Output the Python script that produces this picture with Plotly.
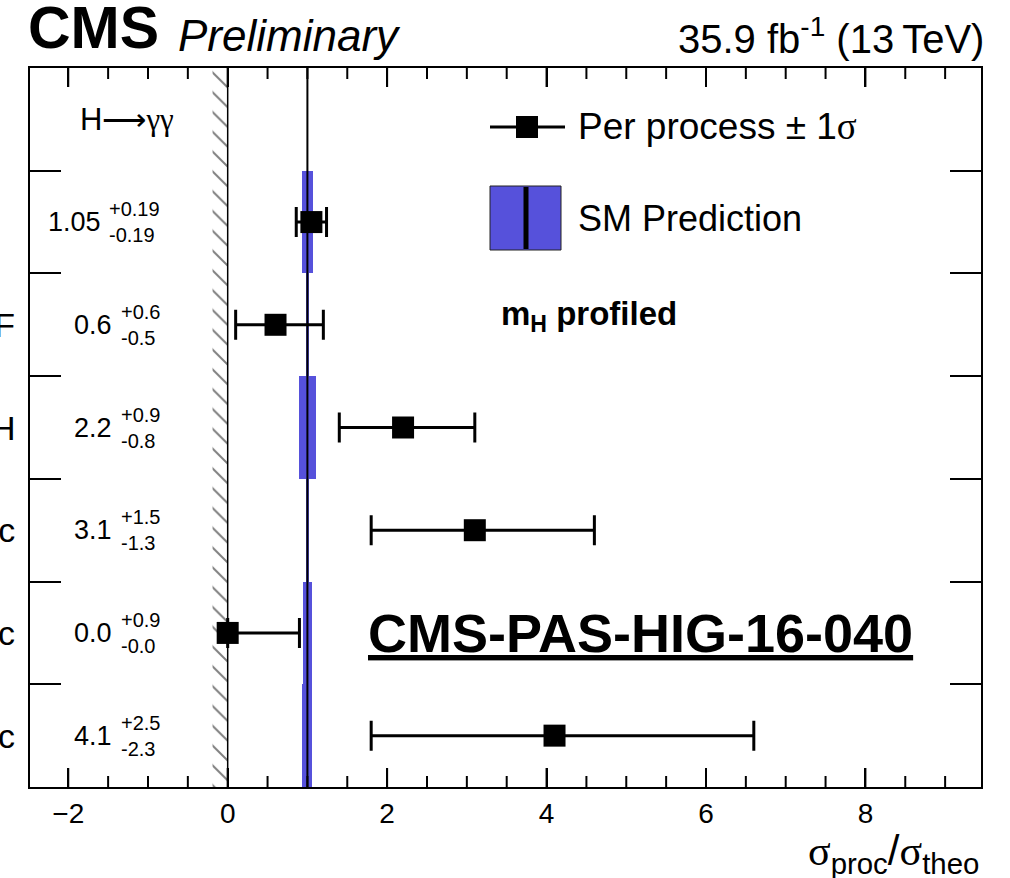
import numpy as np
import plotly.graph_objects as go

# Per-process signal strengths, H -> gamma gamma (top row first)
processes = ["ggH", "VBF", "ttH", "WH leptonic", "ZH leptonic", "VH hadronic"]
mu = [1.05, 0.6, 2.2, 3.1, 0.0, 4.1]
err_up = [0.19, 0.6, 0.9, 1.5, 0.9, 2.5]
err_dn = [0.19, 0.5, 0.8, 1.3, 0.0, 2.3]
mu_text = ["1.05", "0.6", "2.2", "3.1", "0.0", "4.1"]
up_text = ["+0.19", "+0.6", "+0.9", "+1.5", "+0.9", "+2.5"]
dn_text = ["-0.19", "-0.5", "-0.8", "-1.3", "-0.0", "-2.3"]
# theory uncertainty on the SM prediction (relative, per process)
sm_unc = [0.067, 0.022, 0.107, 0.022, 0.055, 0.063]
SM_VALUE = 1.0
X_MAJOR = 2
X_MINOR = 0.5

X_RANGE = [-2.48, 9.45]
N_ROWS = len(processes) + 1          # one extra row for the channel header
HATCH_WIDTH = 0.19                   # physical boundary band at sigma = 0
VALUE_LABEL_X = -0.826               # right edge of the value labels

W, H = 1010, 878
ML, MR, MT, MB = 30, 29, 68, 91
PLOT_H = H - MT - MB
SANS = "Liberation Sans, Arial, Helvetica, sans-serif"
SERIF = "Liberation Serif, Times New Roman, serif"
BLUE = "#5651DB"

rows = [len(processes) - 0.5 - i for i in range(len(processes))]


def px_x(px):
    return (px - ML) / (W - ML - MR)


def px_y(py):
    return (H - MB - py) / PLOT_H


def serif(s):
    return f"<span style='font-family:{SERIF}'>{s}</span>"


# approximate Helvetica advance widths (em) for the stacked uncertainties
CHAR_W = {"+": 0.584, "-": 0.333, ".": 0.278}


def text_width(s, size):
    return sum(CHAR_W.get(c, 0.556) for c in s) * size


fig = go.Figure()

# hatched band marking the unphysical region below zero
fig.add_trace(go.Scatter(
    x=[-HATCH_WIDTH, 0, 0, -HATCH_WIDTH, -HATCH_WIDTH],
    y=[0, 0, N_ROWS, N_ROWS, 0],
    mode="lines", fill="toself", line=dict(width=0),
    fillcolor="rgba(0,0,0,0)",
    fillpattern=dict(shape="\\", size=14, solidity=0.14,
                     fgcolor="black", bgcolor="rgba(0,0,0,0)", fillmode="overlay"),
    hoverinfo="skip", showlegend=False,
))

# SM prediction uncertainty bands
fig.add_trace(go.Bar(
    y=rows, x=[2 * u for u in sm_unc], base=[SM_VALUE - u for u in sm_unc],
    orientation="h", width=1.0,
    marker=dict(color=BLUE, line=dict(width=0)),
    hoverinfo="skip", showlegend=False,
))

# reference lines at zero and at the SM value
fig.add_trace(go.Scatter(x=[0, 0], y=[0, N_ROWS], mode="lines",
                         line=dict(color="black", width=1.5),
                         hoverinfo="skip", showlegend=False))
fig.add_trace(go.Scatter(x=[SM_VALUE, SM_VALUE], y=[0, N_ROWS], mode="lines",
                         line=dict(color="black", width=2),
                         hoverinfo="skip", showlegend=False))

# x-axis tick marks (major + minor) along the bottom and top frame edges
tick_x, tick_y = [], []
px_to_y = N_ROWS / PLOT_H
for v in np.arange(np.ceil(X_RANGE[0] / X_MINOR) * X_MINOR, X_RANGE[1], X_MINOR):
    v = float(v)
    length = (19 if abs(v / X_MAJOR - round(v / X_MAJOR)) < 1e-9 else 11) * px_to_y
    tick_x += [v, v, None, v, v, None]
    tick_y += [0, length, None, N_ROWS, N_ROWS - length, None]
fig.add_trace(go.Scatter(x=tick_x, y=tick_y, mode="lines", connectgaps=False,
                         line=dict(color="black", width=2),
                         hoverinfo="skip", showlegend=False))

# measured signal strengths with +-1 sigma
fig.add_trace(go.Scatter(
    x=mu, y=rows, mode="markers",
    marker=dict(symbol="square", size=22, color="black"),
    error_x=dict(type="data", symmetric=False, array=err_up, arrayminus=err_dn,
                 thickness=3, width=15, color="black"),
    showlegend=False,
))

ann = []

# value labels with asymmetric uncertainties
SMALL = 20
for r, m, u, d in zip(rows, mu_text, up_text, dn_text):
    stack_w = max(text_width(u, SMALL), text_width(d, SMALL))
    ann.append(dict(x=VALUE_LABEL_X, y=r, xref="x", yref="y", text=f"{u}<br>{d}",
                    xanchor="right", yanchor="middle", align="left", showarrow=False,
                    font=dict(family=SANS, size=SMALL, color="black")))
    ann.append(dict(x=VALUE_LABEL_X, y=r, xref="x", yref="y", text=m,
                    xanchor="right", yanchor="middle", showarrow=False,
                    xshift=-(stack_w + 8),
                    font=dict(family=SANS, size=27, color="black")))

# process names to the left of the frame
for r, name in list(zip(rows, processes))[1:]:
    ann.append(dict(x=px_x(17), y=r, xref="paper", yref="y", text=name,
                    xanchor="right", yanchor="middle", showarrow=False,
                    font=dict(family=SANS, size=34, color="black")))

# header texts
ann += [
    dict(x=px_x(26), y=px_y(63), xref="paper", yref="paper", text="<b>CMS</b>",
         xanchor="left", yanchor="bottom", showarrow=False,
         font=dict(family=SANS, size=59, color="black")),
    dict(x=px_x(176), y=px_y(62), xref="paper", yref="paper", text="<i>Preliminary</i>",
         xanchor="left", yanchor="bottom", showarrow=False,
         font=dict(family=SANS, size=44, color="black")),
    dict(x=px_x(986), y=px_y(63), xref="paper", yref="paper",
         text="35.9 fb<sup>-1</sup> (13\u2009TeV)",
         xanchor="right", yanchor="bottom", showarrow=False,
         font=dict(family=SANS, size=40, color="black")),
    dict(x=px_x(78), y=N_ROWS - 0.5, xref="paper", yref="y",
         text="H" + serif("\u27f6\u03b3\u03b3"),
         xanchor="left", yanchor="middle", showarrow=False,
         font=dict(family=SANS, size=31, color="black")),
    dict(x=px_x(576), y=px_y(126), xref="paper", yref="paper",
         text="Per process \u00b1 1" + serif("\u03c3"),
         xanchor="left", yanchor="middle", showarrow=False,
         font=dict(family=SANS, size=37, color="black")),
    dict(x=px_x(576), y=px_y(219), xref="paper", yref="paper", text="SM Prediction",
         xanchor="left", yanchor="middle", showarrow=False,
         font=dict(family=SANS, size=36, color="black")),
    dict(x=px_x(499), y=px_y(316), xref="paper", yref="paper",
         text="<b>m<sub>H</sub> profiled</b>",
         xanchor="left", yanchor="middle", showarrow=False,
         font=dict(family=SANS, size=33, color="black")),
    dict(x=px_x(366), y=px_y(633), xref="paper", yref="paper",
         text="<b><u>CMS-PAS-HIG-16-040</u></b>",
         xanchor="left", yanchor="middle", showarrow=False,
         font=dict(family=SANS, size=54, color="black")),
    dict(x=1.0, y=px_y(853), xref="paper", yref="paper",
         text=serif("\u03c3") + "<sub>proc</sub>/" + serif("\u03c3") + "<sub>theo</sub>",
         xanchor="right", yanchor="middle", showarrow=False,
         font=dict(family=SANS, size=42, color="black")),
]

# legend symbols
shapes = [
    dict(type="line", xref="paper", yref="paper", x0=px_x(490), x1=px_x(565),
         y0=px_y(127), y1=px_y(127), line=dict(color="black", width=3)),
    dict(type="rect", xref="paper", yref="paper", x0=px_x(516), x1=px_x(538),
         y0=px_y(116), y1=px_y(138), fillcolor="black", line=dict(width=0)),
    dict(type="rect", xref="paper", yref="paper", x0=px_x(490), x1=px_x(561),
         y0=px_y(186), y1=px_y(250), fillcolor=BLUE, line=dict(color="#222", width=1)),
    dict(type="line", xref="paper", yref="paper", x0=px_x(526), x1=px_x(526),
         y0=px_y(187), y1=px_y(249), line=dict(color="black", width=5)),
]

fig.update_layout(
    width=W, height=H,
    margin=dict(l=ML, r=MR, t=MT, b=MB),
    paper_bgcolor="white", plot_bgcolor="white",
    annotations=ann, shapes=shapes,
    showlegend=False,
    bargap=0,
    xaxis=dict(
        range=X_RANGE, tickmode="linear", tick0=0, dtick=X_MAJOR,
        ticks="inside", ticklen=19, tickwidth=2, tickcolor="black",
        showline=True, linewidth=2, linecolor="black", mirror="ticks",
        showgrid=False, zeroline=False,
        tickfont=dict(family=SANS, size=28, color="black"),
    ),
    yaxis=dict(
        range=[0, N_ROWS], tickmode="linear", tick0=1, dtick=1,
        ticks="inside", ticklen=31, tickwidth=2, tickcolor="black",
        showticklabels=False,
        showline=True, linewidth=2, linecolor="black", mirror="ticks",
        showgrid=False, zeroline=False,
    ),
)

fig.write_html("out.html")
